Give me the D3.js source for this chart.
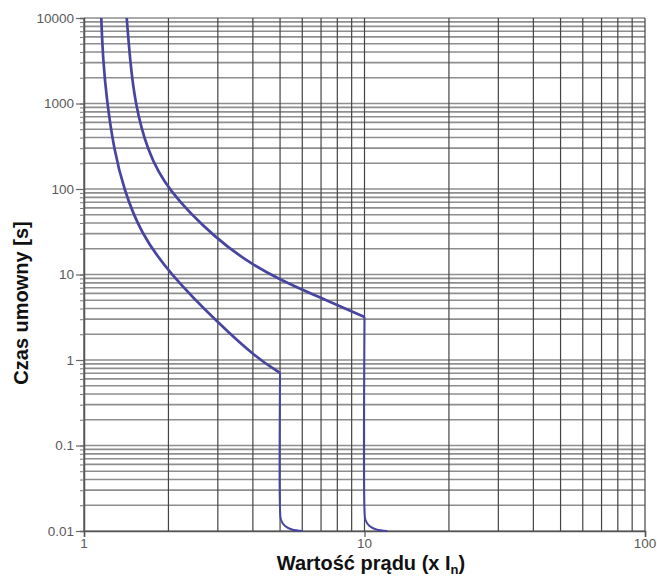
<!DOCTYPE html>
<html>
<head>
<meta charset="utf-8">
<script src="https://cdn.jsdelivr.net/npm/d3@7"></script>
<style>
  body { margin: 0; background: #fff; }
  svg { display: block; }
</style>
</head>
<body>
<svg id="chart" width="657" height="576"></svg>
<script>
// current in multiples of In, time in seconds
const yTickValues = [10000, 1000, 100, 10, 1, 0.1, 0.01];
const yTickLabels = ["10000", "1000", "100", "10", "1", "0.1", "0.01"];
const xTickValues = [1, 10, 100];
const xTickLabels = ["1", "10", "100"];

// lower limit curve
const curve1Current = [1.152, 1.169, 1.205, 1.279, 1.389, 1.593, 2.009, 3.054, 4.128, 5.0];
const curve1Time = [10000, 3228, 1099, 286, 97.3, 30.6, 10.4, 2.57, 1.055, 0.705];
const curve1TailCurrent = [5.0, 5.0, 5.04, 5.21, 5.51, 6.03];
const curve1TailTime = [0.705, 0.0176, 0.01345, 0.01144, 0.0104, 0.01];

// upper limit curve
const curve2Current = [1.42, 1.459, 1.52, 1.677, 1.976, 2.98, 4.004, 5.025, 6.94, 10.0];
const curve2Time = [10000, 3228, 1013, 286, 97.3, 25.3, 12.9, 8.62, 5.38, 3.18];
const curve2TailCurrent = [10.0, 10.0, 10.08, 10.42, 11.02, 12.06];
const curve2TailTime = [3.18, 0.0176, 0.01345, 0.01144, 0.0104, 0.01];

const margin = {top: 18, right: 12, bottom: 45, left: 84};
const width = 657 - margin.left - margin.right;
const height = 576 - margin.top - margin.bottom;

const svg = d3.select("#chart");
const g = svg.append("g").attr("transform", `translate(${margin.left},${margin.top})`);

const x = d3.scaleLog().domain([1, 100]).range([0, width]);
const y = d3.scaleLog().domain([0.01, 10000]).range([height, 0]);

// all 1..9 values per decade for the grid
const xGrid = [];
for (let e = 0; e < 2; e++) for (let m = 1; m < 10; m++) xGrid.push(m * Math.pow(10, e));
xGrid.push(100);
const yGrid = [];
for (let e = -2; e < 4; e++) for (let m = 1; m < 10; m++) yGrid.push(+(m * Math.pow(10, e)).toPrecision(3));
yGrid.push(10000);

g.selectAll("line.hgrid")
  .data(yGrid)
  .enter()
  .append("line")
  .classed("hgrid", true)
  .attr("x1", 0)
  .attr("x2", width)
  .attr("y1", d => y(d))
  .attr("y2", d => y(d))
  .attr("stroke", "#8e8e8e")
  .attr("stroke-width", 1.7);

g.selectAll("line.vgrid")
  .data(xGrid)
  .enter()
  .append("line")
  .classed("vgrid", true)
  .attr("x1", d => x(d))
  .attr("x2", d => x(d))
  .attr("y1", 0)
  .attr("y2", height)
  .attr("stroke", "#444")
  .attr("stroke-width", 1.2);

// axes with small ticks, labels drawn separately
g.append("g").call(d3.axisLeft(y).tickValues(yGrid).tickSize(4).tickFormat(""))
  .call(a => a.select(".domain").attr("stroke", "#555").attr("stroke-width", 1.5))
  .call(a => a.selectAll(".tick line").attr("stroke", "#777"));

g.append("g").call(d3.axisLeft(y).tickValues(yTickValues).tickSize(8).tickFormat(""))
  .call(a => a.select(".domain").remove())
  .call(a => a.selectAll(".tick line").attr("stroke", "#666").attr("stroke-width", 1.2));

g.append("g")
  .attr("transform", `translate(0,${height})`)
  .call(d3.axisBottom(x).tickValues(xTickValues).tickSize(6).tickFormat(""))
  .call(a => a.select(".domain").attr("stroke", "#555").attr("stroke-width", 1.5))
  .call(a => a.selectAll(".tick line").attr("stroke", "#555").attr("stroke-width", 1.2));

g.selectAll("text.ylab")
  .data(yTickValues)
  .enter()
  .append("text")
  .classed("ylab", true)
  .attr("x", -10)
  .attr("y", d => y(d))
  .attr("dy", "0.35em")
  .attr("text-anchor", "end")
  .attr("font-family", "Liberation Sans, Arial, sans-serif")
  .attr("font-size", 13.5)
  .attr("fill", "#5a5a5a")
  .text((d, i) => yTickLabels[i]);

g.selectAll("text.xlab")
  .data(xTickValues)
  .enter()
  .append("text")
  .classed("xlab", true)
  .attr("x", d => x(d))
  .attr("y", height + 17)
  .attr("text-anchor", "middle")
  .attr("font-family", "Liberation Sans, Arial, sans-serif")
  .attr("font-size", 13.5)
  .attr("fill", "#5a5a5a")
  .text((d, i) => xTickLabels[i]);

// curves: smooth upper branches, tight bend at the bottom
const smoothLine = d3.line()
  .x(d => x(d[0]))
  .y(d => y(d[1]))
  .curve(d3.curveBasis);
const tailLine = d3.line()
  .x(d => x(d[0]))
  .y(d => y(d[1]))
  .curve(d3.curveCatmullRom.alpha(0.5));

const curves = [
  {pts: d3.zip(curve1Current, curve1Time), gen: smoothLine, w: 2.7},
  {pts: d3.zip(curve1TailCurrent, curve1TailTime), gen: tailLine, w: 2},
  {pts: d3.zip(curve2Current, curve2Time), gen: smoothLine, w: 2.7},
  {pts: d3.zip(curve2TailCurrent, curve2TailTime), gen: tailLine, w: 2}
];

g.selectAll("path.curve")
  .data(curves)
  .enter()
  .append("path")
  .classed("curve", true)
  .attr("d", d => d.gen(d.pts))
  .attr("fill", "none")
  .attr("stroke", "#4845a0")
  .attr("stroke-width", d => d.w)
  .attr("stroke-linejoin", "round");

// axis titles
svg.append("text")
  .attr("transform", "translate(28,303) rotate(-90)")
  .attr("text-anchor", "middle")
  .attr("font-family", "Liberation Sans, Arial, sans-serif")
  .attr("font-weight", "bold")
  .attr("font-size", 20)
  .attr("fill", "#111")
  .text("Czas umowny [s]");

const xt = svg.append("text")
  .attr("x", 371)
  .attr("y", 570)
  .attr("text-anchor", "middle")
  .attr("font-family", "Liberation Sans, Arial, sans-serif")
  .attr("font-weight", "bold")
  .attr("font-size", 20)
  .attr("fill", "#111");
xt.append("tspan").text("Wartość prądu (x I");
xt.append("tspan").attr("font-size", 13).attr("dy", 4).text("n");
xt.append("tspan").attr("dy", -4).text(")");
</script>
</body>
</html>
